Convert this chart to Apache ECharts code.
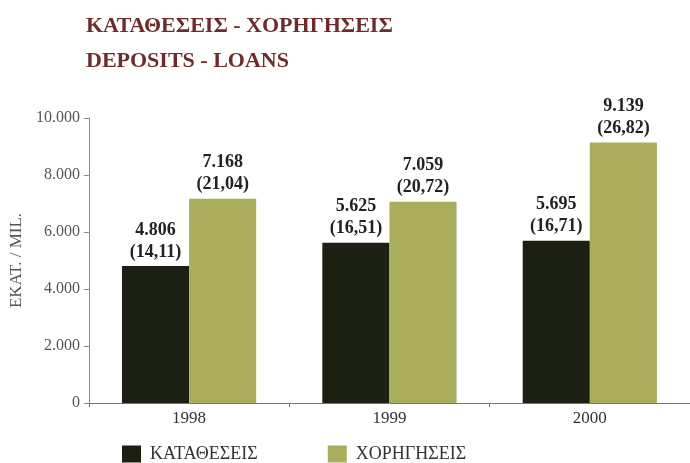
<!DOCTYPE html>
<html>
<head>
<meta charset="utf-8">
<script src="https://cdn.jsdelivr.net/npm/echarts@6/dist/echarts.min.js"></script>
<style>html,body{margin:0;padding:0;background:#fff;}#c{width:690px;height:463px;}</style>
</head>
<body>
<div id="c"></div>
<script>
const categories = ['1998', '1999', '2000'];
const seriesNames = ['ΚΑΤΑΘΕΣΕΙΣ', 'ΧΟΡΗΓΗΣΕΙΣ'];
const deposits = [4806, 5625, 5695];
const loans = [7168, 7059, 9139];
const depositsPct = ['14,11', '16,51', '16,71'];
const loansPct = ['21,04', '20,72', '26,82'];
const yTicks = [0, 2000, 4000, 6000, 8000, 10000];

function fmt(v) {
  return String(v).replace(/\B(?=(\d{3})+(?!\d))/g, '.');
}

const serif = '"Liberation Serif", "DejaVu Serif", serif';
const chart = echarts.init(document.getElementById('c'));
const labelStyle = {
  show: true, position: 'top', distance: 3,
  fontFamily: serif, fontWeight: 'bold', fontSize: 18, color: '#222', lineHeight: 22
};
chart.setOption({
  animation: false,
  backgroundColor: '#ffffff',
  title: [
    { text: 'ΚΑΤΑΘΕΣΕΙΣ - ΧΟΡΗΓΗΣΕΙΣ', left: 81, top: 10,
      textStyle: { fontFamily: serif, fontSize: 22, fontWeight: 'bold', color: '#6e2b2b' } },
    { text: 'DEPOSITS - LOANS', left: 81, top: 45,
      textStyle: { fontFamily: serif, fontSize: 22, fontWeight: 'bold', color: '#6e2b2b' } }
  ],
  legend: {
    left: 117, top: 440, itemWidth: 19, itemHeight: 17, itemGap: 70,
    icon: 'rect',
    textStyle: { fontFamily: serif, fontSize: 18, color: '#333', padding: [0, 0, 0, 4] },
    data: seriesNames
  },
  grid: { left: 88, right: -7, top: 118, bottom: 60 },
  xAxis: {
    type: 'category', data: categories,
    axisLine: { lineStyle: { color: '#777', width: 1 } },
    axisTick: { show: true, length: 4, lineStyle: { color: '#777' } },
    axisLabel: { fontFamily: serif, fontSize: 17, color: '#333', margin: 7 }
  },
  yAxis: {
    type: 'value', min: yTicks[0], max: yTicks[yTicks.length - 1], interval: 2000,
    name: 'ΕΚΑΤ. / MIL.', nameLocation: 'middle', nameGap: 52, nameRotate: 90,
    nameTextStyle: { fontFamily: serif, fontSize: 17, color: '#555' },
    axisLine: { show: true, lineStyle: { color: '#888' } },
    axisTick: { show: true, length: 5, lineStyle: { color: '#888' } },
    splitLine: { show: false },
    axisLabel: { fontFamily: serif, fontSize: 16, color: '#555', margin: 9, formatter: v => fmt(v) }
  },
  series: [
    { name: seriesNames[0], type: 'bar', data: deposits, barGap: '0%', barCategoryGap: '33%',
      itemStyle: { color: '#1c2012' },
      label: Object.assign({}, labelStyle, { formatter: p => fmt(p.value) + '\n(' + depositsPct[p.dataIndex] + ')' }) },
    { name: seriesNames[1], type: 'bar', data: loans, barGap: '0%', barCategoryGap: '33%',
      itemStyle: { color: '#a9ad5c' },
      label: Object.assign({}, labelStyle, { formatter: p => fmt(p.value) + '\n(' + loansPct[p.dataIndex] + ')' }) }
  ]
});
</script>
</body>
</html>
